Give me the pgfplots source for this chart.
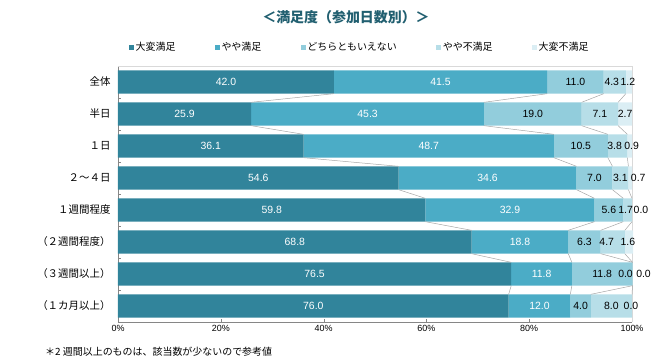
\documentclass[border=0pt]{standalone}
\usepackage{pgfplots}
\pgfplotsset{compat=1.18}
\usepackage{pgfplotstable}
\usepackage{fontspec}
\setmainfont{Noto Sans CJK JP}
\newfontfamily\num{Liberation Sans}
\definecolor{c1}{HTML}{31849B}
\definecolor{c2}{HTML}{4BACC6}
\definecolor{c3}{HTML}{92CDDC}
\definecolor{c4}{HTML}{B7DEE8}
\definecolor{c5}{HTML}{DBEEF4}
\definecolor{titlec}{HTML}{215F70}
\definecolor{axisc}{HTML}{868686}
\definecolor{borderc}{HTML}{D9D9D9}
\definecolor{serc}{HTML}{A6A6A6}

% y: position (top = 7); a..e: shares; od, oe: label offsets (bp)
\pgfplotstableread{
y a b c d e od oe
7 42.0 41.5 11.0 4.3 1.2 -3 -1
6 25.9 45.3 19.0 7.1 2.7 0 0
5 36.1 48.7 10.5 3.8 0.9 -3 2
4 54.6 34.6 7.0 3.1 0.7 0 8
3 59.8 32.9 5.6 1.7 0.0 -2 9
2 68.8 18.8 6.3 4.7 1.6 -6 -1
1 76.5 11.8 11.8 0.0 0.0 -7 11
0 76.0 12.0 4.0 8.0 0.0 0 -1
}\data

\pgfplotsset{
  seglabel/.style={
    draw=none, mark=none,
    nodes near coords={\pgfmathprintnumber[fixed,fixed zerofill,precision=1]{\pgfplotspointmeta}},
    point meta=explicit,
    every node near coord/.style={anchor=center, inner sep=0pt, text=#1,
      font=\num\fontsize{10.5}{12}\selectfont},
  },
  frame/.style={at={(0,0)}, anchor=south west,
    scale only axis, width=514bp, height=256bp,
    xmin=0, xmax=100, ymin=-0.5, ymax=7.5, clip=false,
    /pgf/number format/assume math mode=true},
}

\begin{document}
\begin{tikzpicture}
\path[use as bounding box] (-118bp,-40bp) rectangle (553bp,322bp);
\begin{axis}[
  frame,
  xbar stacked, bar width=0.73,
  axis x line*=bottom, axis y line*=left,
  axis line style={draw=axisc},
  xtick={0,20,40,60,80,100},
  xticklabels={0\%,20\%,40\%,60\%,80\%,100\%},
  xticklabel style={font=\num\fontsize{9}{10}\selectfont},
  major x tick style={draw=axisc},
  major tick length=3bp,
  ytick={0,1,2,3,4,5,6,7},
  yticklabels={（１カ月以上）,（３週間以上）,（２週間程度）,１週間程度,２～４日,１日,半日,全体},
  yticklabel style={font=\fontsize{10.5}{12}\selectfont, xshift=-4bp},
  major y tick style={draw=none},
  minor ytick={0.5,1.5,2.5,3.5,4.5,5.5,6.5},
  minor y tick style={draw=axisc},
  minor tick length=3bp,
  legend columns=5,
  legend style={at={(0.47,1.074)}, anchor=center, draw=none, fill=none,
    font=\fontsize{10}{12}\selectfont,
    /tikz/every even column/.append style={column sep=38bp},
    nodes={inner sep=1.5bp}},
  legend cell align=left,
  legend image code/.code={\fill[#1] (0bp,-2.5bp) rectangle (5bp,2.5bp);},
]
\addplot[fill=c1, draw=none] table[x=a, y=y] {\data};
\addlegendentry{大変満足}
\addplot[fill=c2, draw=none] table[x=b, y=y] {\data};
\addlegendentry{やや満足}
\addplot[fill=c3, draw=none] table[x=c, y=y] {\data};
\addlegendentry{どちらともいえない}
\addplot[fill=c4, draw=none] table[x=d, y=y] {\data};
\addlegendentry{やや不満足}
\addplot[fill=c5, draw=none] table[x=e, y=y] {\data};
\addlegendentry{大変不満足}
\draw[borderc] (rel axis cs:0,1) -- (rel axis cs:1,1) -- (rel axis cs:1,0);
\end{axis}

\begin{axis}[frame, hide axis]
% series lines (cumulative boundaries between adjacent bars)
\addplot[draw=serc, line width=0.5pt, mark=none, unbounded coords=jump]
 coordinates {(42.0,6.635) (25.9,6.365) (nan,nan) (25.9,5.635) (36.1,5.365) (nan,nan)
 (36.1,4.635) (54.6,4.365) (nan,nan) (54.6,3.635) (59.8,3.365) (nan,nan)
 (59.8,2.635) (68.8,2.365) (nan,nan) (68.8,1.635) (76.5,1.365) (nan,nan)
 (76.5,0.635) (76.0,0.365)};
\addplot[draw=serc, line width=0.5pt, mark=none, unbounded coords=jump]
 coordinates {(83.5,6.635) (71.2,6.365) (nan,nan) (71.2,5.635) (84.8,5.365) (nan,nan)
 (84.8,4.635) (89.2,4.365) (nan,nan) (89.2,3.635) (92.7,3.365) (nan,nan)
 (92.7,2.635) (87.6,2.365) (nan,nan) (87.6,1.635) (88.3,1.365) (nan,nan)
 (88.3,0.635) (88.0,0.365)};
\addplot[draw=serc, line width=0.5pt, mark=none, unbounded coords=jump]
 coordinates {(94.5,6.635) (90.2,6.365) (nan,nan) (90.2,5.635) (95.3,5.365) (nan,nan)
 (95.3,4.635) (96.2,4.365) (nan,nan) (96.2,3.635) (98.3,3.365) (nan,nan)
 (98.3,2.635) (93.9,2.365) (nan,nan) (93.9,1.635) (100.1,1.365) (nan,nan)
 (100.1,0.635) (92.0,0.365)};
\addplot[draw=serc, line width=0.5pt, mark=none, unbounded coords=jump]
 coordinates {(98.8,6.635) (97.3,6.365) (nan,nan) (97.3,5.635) (99.1,5.365) (nan,nan)
 (99.1,4.635) (99.3,4.365) (nan,nan) (99.3,3.635) (100.0,3.365) (nan,nan)
 (100.0,2.635) (98.6,2.365) (nan,nan) (98.6,1.635) (100.1,1.365) (nan,nan)
 (100.1,0.635) (100.0,0.365)};

% data labels, centred in each segment
\addplot[seglabel=white] table[x expr={\thisrow{a}/2}, y=y, meta=a] {\data};
\addplot[seglabel=white] table[x expr={\thisrow{a}+\thisrow{b}/2}, y=y, meta=b] {\data};
\addplot[seglabel=black] table[x expr={\thisrow{a}+\thisrow{b}+\thisrow{c}/2}, y=y, meta=c] {\data};
\addplot[seglabel=black] table[x expr={\thisrow{a}+\thisrow{b}+\thisrow{c}+\thisrow{d}/2+\thisrow{od}/5.14}, y=y, meta=d] {\data};
\addplot[seglabel=black] table[x expr={\thisrow{a}+\thisrow{b}+\thisrow{c}+\thisrow{d}+\thisrow{e}/2+\thisrow{oe}/5.14}, y=y, meta=e] {\data};
\end{axis}
\node[font=\bfseries\fontsize{14}{16}\selectfont, text=titlec] at (228bp,305bp) {＜満足度（参加日数別）＞};
\node[anchor=west, font=\fontsize{10}{12}\selectfont, inner sep=0pt] at (-73bp,-30bp) {＊2 週間以上のものは、該当数が少ないので参考値};
\end{tikzpicture}
\end{document}
